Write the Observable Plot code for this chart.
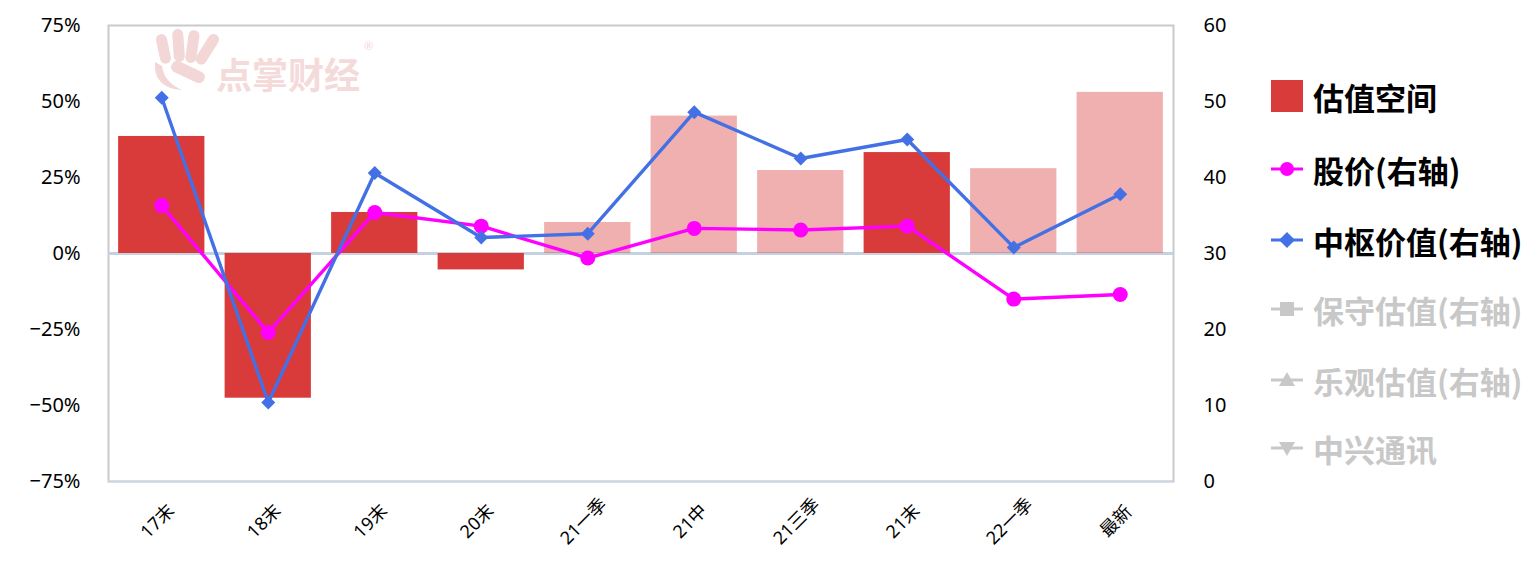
<!DOCTYPE html>
<html><head><meta charset="utf-8">
<script src="https://cdn.jsdelivr.net/npm/d3@7"></script>
<script src="https://cdn.jsdelivr.net/npm/@observablehq/plot@0.6"></script>
<style>
body{margin:0;background:#fff;font-family:"Noto Sans","Noto Sans CJK SC",sans-serif;}
#wrap{position:relative;width:1540px;height:577px;overflow:hidden;}
#wrap svg{display:block;}
.wm{position:absolute;left:150px;top:28px;pointer-events:none;}
.legend{position:absolute;left:0;top:0;width:1540px;height:577px;pointer-events:none;}
.item{position:absolute;left:1271px;height:40px;display:flex;align-items:center;white-space:nowrap;font-family:"Noto Sans CJK SC",sans-serif;font-weight:bold;font-size:31px;}
.item svg{margin-right:10px;flex:none;}
</style></head>
<body><div id="wrap"></div>
<script>
const categories = ["17末","18末","19末","20末","21一季","21中","21三季","21末","22一季","最新"];
const valuationSpace = [38.5,-47.6,13.5,-5.4,10.2,45.2,27.3,33.2,27.9,53.0];
const barShade = ["dark","dark","dark","dark","light","light","light","dark","light","light"];
const stockPrice = [36.3,19.6,35.4,33.6,29.4,33.3,33.1,33.6,24.0,24.6];
const centralValue = [50.5,10.4,40.6,32.1,32.6,48.6,42.5,45.0,30.8,37.8];
const leftTicks = [-75,-50,-25,0,25,50,75];
const rightTicks = [0,10,20,30,40,50,60];
const legendLabels = ["估值空间","股价(右轴)","中枢价值(右轴)","保守估值(右轴)","乐观估值(右轴)","中兴通讯"];

const RED = "#d93a3a", MAG = "#ff00ff", BLUE = "#4470e6", GRAY = "#c8c8c8";
// right axis (0..60) mapped onto left scale (-75%..75%)
const toLeft = r => (r - 30) * 2.5;
const toRight = l => Math.round(l / 2.5 + 30);

const data = categories.map((c, i) => ({cat: c, v: valuationSpace[i], shade: barShade[i], price: stockPrice[i], central: centralValue[i]}));
const pct = d => (d < 0 ? "\u2212" : "") + Math.abs(d) + "%";

const chart = Plot.plot({
  width: 1540, height: 577,
  marginLeft: 108, marginRight: 367, marginTop: 25, marginBottom: 96,
  style: {fontFamily: "'Noto Sans','Noto Sans CJK SC',sans-serif", fontSize: "20px", color: "#000", background: "transparent"},
  x: {domain: categories, paddingInner: 0.19, paddingOuter: 0.095, round: false, axis: null},
  y: {domain: [-75, 75], axis: null},
  marks: [
    Plot.frame({stroke: "#cacaca", strokeWidth: 2}),
    Plot.ruleY([-75], {stroke: "#cdd6e6", strokeWidth: 2}),
    Plot.ruleY([0], {stroke: "#c3d1e0", strokeWidth: 3}),
    Plot.barY(data, {filter: d => d.shade === "dark", x: "cat", y: "v", fill: RED}),
    Plot.barY(data, {filter: d => d.shade === "light", x: "cat", y: "v", fill: RED, fillOpacity: 0.4}),
    Plot.line(data, {x: "cat", y: d => toLeft(d.price), stroke: MAG, strokeWidth: 3.4}),
    Plot.dot(data, {x: "cat", y: d => toLeft(d.price), fill: MAG, r: 7.5, stroke: "none"}),
    Plot.line(data, {x: "cat", y: d => toLeft(d.central), stroke: BLUE, strokeWidth: 3.4}),
    Plot.dot(data, {x: "cat", y: d => toLeft(d.central), fill: BLUE, r: 6.3, symbol: "diamond2", stroke: "none"}),
    Plot.axisY({ticks: leftTicks, label: null, tickSize: 0, tickPadding: 28, tickFormat: pct, fontSize: 20, fill: "#000"}),
    Plot.axisY({anchor: "right", label: null, ticks: rightTicks.map(toLeft), tickSize: 0, tickPadding: 30, tickFormat: toRight, fontSize: 20, fill: "#000"}),
    Plot.text(categories, {x: d => d, frameAnchor: "bottom", dy: 44, rotate: -45, textAnchor: "middle", fontSize: 18, fill: "#000", fontFamily: "'Noto Sans','Noto Sans CJK SC',sans-serif"})
  ]
});
const wrap = document.getElementById("wrap");
wrap.appendChild(chart);

// watermark
const wm = document.createElement("div");
wm.className = "wm";
wm.innerHTML = `<svg width="260" height="72" viewBox="0 0 260 72">
 <g fill="#f3d6d6">
  <rect x="8" y="6" width="11" height="30" rx="5.5" transform="rotate(-12 13 21)"/>
  <rect x="23" y="1" width="11" height="33" rx="5.5" transform="rotate(-4 28 17)"/>
  <rect x="37" y="2" width="11" height="33" rx="5.5" transform="rotate(8 42 18)"/>
  <rect x="52" y="4" width="11" height="34" rx="5.5" transform="rotate(32 57 21)"/>
  <rect x="20" y="38" width="36" height="12" rx="6" transform="rotate(25 38 44)"/>
  <path d="M5 34 Q3 60 32 62 Q14 54 12 38 Z"/>
 </g>
 <text x="66" y="61" font-family="Noto Sans CJK SC" font-weight="bold" font-size="36" fill="#f5dada">点掌财经</text>
 <text x="214" y="22" font-family="Noto Sans" font-size="11" fill="#f3d6d6">®</text>
</svg>`;
wrap.appendChild(wm);

// legend
const legend = document.createElement("div");
legend.className = "legend";
const rowsY = [96, 169, 240, 309, 380, 448];
const symbols = [
  `<rect x="0" y="4" width="32" height="32" fill="${RED}"/>`,
  `<line x1="0" y1="20" x2="32" y2="20" stroke="${MAG}" stroke-width="3"/><circle cx="16" cy="20" r="7" fill="${MAG}"/>`,
  `<line x1="0" y1="20" x2="32" y2="20" stroke="${BLUE}" stroke-width="3"/><path d="M16 12 L24 20 L16 28 L8 20 Z" fill="${BLUE}"/>`,
  `<line x1="0" y1="20" x2="32" y2="20" stroke="${GRAY}" stroke-width="3"/><rect x="9" y="13" width="14" height="14" fill="${GRAY}"/>`,
  `<line x1="0" y1="20" x2="32" y2="20" stroke="${GRAY}" stroke-width="3"/><path d="M16 12 L24 26 L8 26 Z" fill="${GRAY}"/>`,
  `<line x1="0" y1="20" x2="32" y2="20" stroke="${GRAY}" stroke-width="3"/><path d="M8 14 L24 14 L16 28 Z" fill="${GRAY}"/>`
];
const textColors = ["#000","#000","#000",GRAY,GRAY,GRAY];
legendLabels.forEach((lab, i) => {
  const it = document.createElement("div");
  it.className = "item";
  it.style.top = (rowsY[i] - 20) + "px";
  it.innerHTML = `<svg width="32" height="40">${symbols[i]}</svg><span style="color:${textColors[i]}">${lab}</span>`;
  legend.appendChild(it);
});
wrap.appendChild(legend);
</script>
</body></html>
